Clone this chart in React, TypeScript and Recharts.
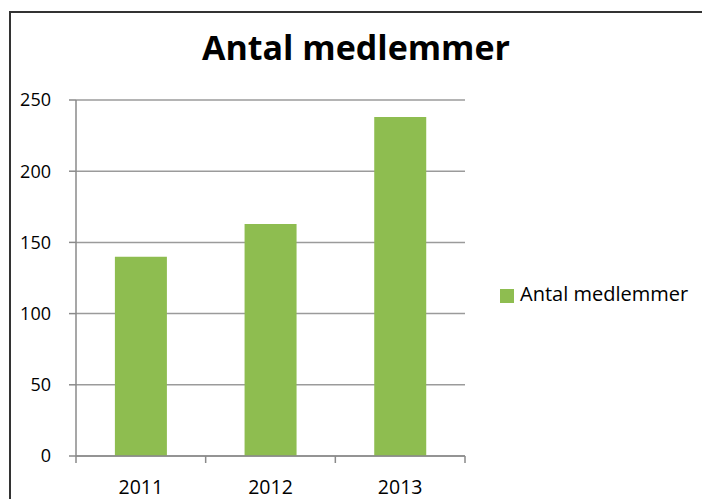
import React from "react";
import { BarChart, Bar, XAxis, YAxis, CartesianGrid, Legend } from "recharts";

const years = ["2011", "2012", "2013"];
const members = [140, 163, 238];
const yTicks = [0, 50, 100, 150, 200, 250];

const data = years.map((year, i) => ({ year, members: members[i] }));

const FONT = "'Open Sans', sans-serif";
const GRID = "#9b9b9b";
const AXIS = "#8a8a8a";
const GREEN = "#8ebd50";
const X_TICK_MARGIN = 24;
const X_TICK_LEN = 7;

// Excel style: tick marks sit between categories, labels in the middle
const YearTick = (props: any) => {
    const { x, y, width, visibleTicksCount, index, payload } = props;
    const band = width && visibleTicksCount ? width / visibleTicksCount : 0;
    const axisY = y - X_TICK_MARGIN;
    const edges = index === visibleTicksCount - 1 ? [x - band / 2, x + band / 2] : [x - band / 2];
    return (
        <g>
            {band > 0 && edges.map((ex, i) => (
                <line key={i} x1={ex} x2={ex} y1={axisY} y2={axisY + X_TICK_LEN} stroke={AXIS} strokeWidth={1.5} />
            ))}
            <text x={x} y={y} dy="0.71em" textAnchor="middle" fill="#000" fontSize={19.5} fontFamily={FONT}>
                {payload.value}
            </text>
        </g>
    );
};

export default function App() {
    return (
        <div style={{ position: "absolute", left: 0, top: 0, width: 702, height: 499, overflow: "hidden", background: "#fff", fontFamily: FONT }}>
            <div style={{ position: "absolute", left: 9, top: 11, width: 760, height: 560, border: "2px solid #333" }} />
            <div style={{ position: "absolute", left: 0, top: 25, width: 702, textAlign: "center", paddingLeft: 10, boxSizing: "border-box", fontSize: 34, fontWeight: 700, color: "#000", lineHeight: "44px" }}>
                Antal medlemmer
            </div>
            <div style={{ position: "absolute", left: 0, top: 0 }}>
                <BarChart width={702} height={499} data={data} margin={{ top: 100, right: 237, bottom: 0, left: 0 }} barCategoryGap="30%">
                    <CartesianGrid vertical={false} stroke={GRID} strokeWidth={1.5} />
                    <XAxis
                        dataKey="year"
                        height={43}
                        tickSize={0}
                        tickMargin={X_TICK_MARGIN}
                        tickLine={false}
                        axisLine={{ stroke: AXIS, strokeWidth: 1.5 }}
                        tick={<YearTick />}
                        interval={0}
                    />
                    <YAxis
                        domain={[0, 250]}
                        ticks={yTicks}
                        width={76}
                        tickSize={7}
                        tickMargin={18}
                        axisLine={{ stroke: AXIS, strokeWidth: 1.5 }}
                        tickLine={{ stroke: AXIS, strokeWidth: 1.5 }}
                        tick={{ fill: "#000", fontSize: 18, fontFamily: FONT }}
                    />
                    <Legend
                        layout="vertical"
                        align="center"
                        verticalAlign="middle"
                        iconType="square"
                        iconSize={14}
                        wrapperStyle={{ left: 500, top: 280, width: 200, fontSize: 20, fontFamily: FONT }}
                        formatter={(value: string) => <span style={{ color: "#000", marginLeft: 2 }}>{value}</span>}
                    />
                    <Bar dataKey="members" name="Antal medlemmer" fill={GREEN} isAnimationActive={false} />
                </BarChart>
            </div>
        </div>
    );
}
